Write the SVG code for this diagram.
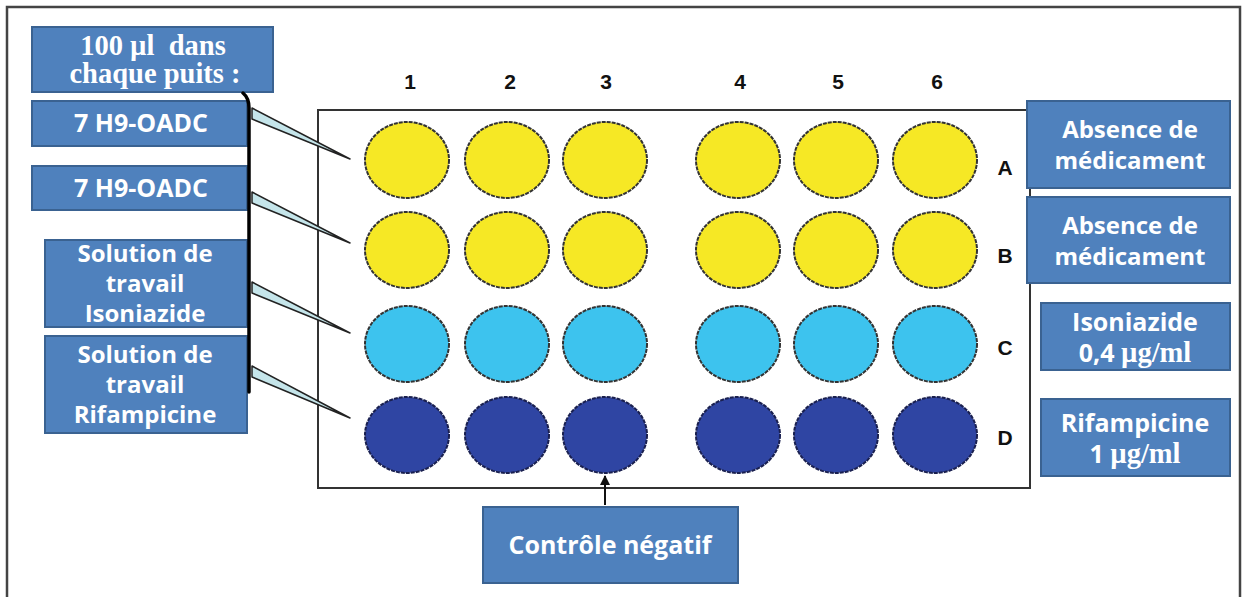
<svg xmlns="http://www.w3.org/2000/svg" width="1242" height="597" viewBox="0 0 1242 597">
<defs>
<style>
.box{fill:#4f81bd;stroke:#3a6291;stroke-width:2}
.t{font-family:"Open Sans","Liberation Sans",sans-serif;font-weight:bold;font-size:25px;fill:#fff;text-anchor:middle}
.t3{font-size:24px}
.s{font-family:"Liberation Serif","DejaVu Serif",serif;font-weight:bold;font-size:28.5px;white-space:pre}
.lab{font-family:"Liberation Sans",Arial,sans-serif;font-weight:bold;font-size:21px;fill:#111;text-anchor:middle}
.y{fill:#f6e825;stroke:#333;stroke-width:2;stroke-dasharray:4 1}
.c{fill:#3dc3ee;stroke:#333;stroke-width:2;stroke-dasharray:4 1}
.d{fill:#2f45a3;stroke:#1a2050;stroke-width:2;stroke-dasharray:4 1}
.pip{fill:#c5e5ea;stroke:#222;stroke-width:1.5;stroke-linejoin:round}
</style>
<marker id="arr" viewBox="0 0 10 10" refX="9" refY="5" markerWidth="5" markerHeight="5" orient="auto"><path d="M0,0 L10,5 L0,10 z" fill="#111"/></marker>
</defs>
<rect x="0" y="0" width="1242" height="597" fill="#fff"/>
<rect x="7" y="7" width="1233" height="600" fill="none" stroke="#444" stroke-width="2.5"/>

<g id="plate">
<rect x="318" y="110" width="712" height="378" fill="#fff" stroke="#333" stroke-width="2"/>
<g id="row-A">
<ellipse class="y" cx="407" cy="160" rx="42" ry="38"/>
<ellipse class="y" cx="507" cy="160" rx="42" ry="38"/>
<ellipse class="y" cx="605" cy="160" rx="42" ry="38"/>
<ellipse class="y" cx="738" cy="160" rx="42" ry="38"/>
<ellipse class="y" cx="836" cy="160" rx="42" ry="38"/>
<ellipse class="y" cx="935" cy="160" rx="42" ry="38"/>
</g>
<g id="row-B">
<ellipse class="y" cx="407" cy="250" rx="42" ry="38"/>
<ellipse class="y" cx="507" cy="250" rx="42" ry="38"/>
<ellipse class="y" cx="605" cy="250" rx="42" ry="38"/>
<ellipse class="y" cx="738" cy="250" rx="42" ry="38"/>
<ellipse class="y" cx="836" cy="250" rx="42" ry="38"/>
<ellipse class="y" cx="935" cy="250" rx="42" ry="38"/>
</g>
<g id="row-C">
<ellipse class="c" cx="407" cy="344" rx="42" ry="38"/>
<ellipse class="c" cx="507" cy="344" rx="42" ry="38"/>
<ellipse class="c" cx="605" cy="344" rx="42" ry="38"/>
<ellipse class="c" cx="738" cy="344" rx="42" ry="38"/>
<ellipse class="c" cx="836" cy="344" rx="42" ry="38"/>
<ellipse class="c" cx="935" cy="344" rx="42" ry="38"/>
</g>
<g id="row-D">
<ellipse class="d" cx="407" cy="435" rx="42" ry="38"/>
<ellipse class="d" cx="507" cy="435" rx="42" ry="38"/>
<ellipse class="d" cx="605" cy="435" rx="42" ry="38"/>
<ellipse class="d" cx="738" cy="435" rx="42" ry="38"/>
<ellipse class="d" cx="836" cy="435" rx="42" ry="38"/>
<ellipse class="d" cx="935" cy="435" rx="42" ry="38"/>
</g>
<g id="col-labels">
<text class="lab" x="410" y="89">1</text>
<text class="lab" x="510" y="89">2</text>
<text class="lab" x="606" y="89">3</text>
<text class="lab" x="740" y="89">4</text>
<text class="lab" x="838" y="89">5</text>
<text class="lab" x="937" y="89">6</text>
</g>
<g id="row-labels">
<text class="lab" x="1005" y="175">A</text>
<text class="lab" x="1005" y="263">B</text>
<text class="lab" x="1005" y="355">C</text>
<text class="lab" x="1005" y="445">D</text>
</g>
</g>

<g id="left-header">
<rect class="box" x="32" y="27" width="241" height="65"/>
<text class="t s" x="153" y="55">100 µl  dans</text>
<text class="t s" x="155" y="83">chaque puits :</text>
</g>
<g id="left-A">
<rect class="box" x="32" y="101" width="215" height="45"/>
<text class="t" x="141" y="132">7 H9-OADC</text>
</g>
<g id="left-B">
<rect class="box" x="32" y="166" width="215" height="44"/>
<text class="t" x="141" y="197">7 H9-OADC</text>
</g>
<g id="left-C">
<rect class="box" x="45" y="240" width="202" height="87"/>
<text class="t t3" x="145" y="262">Solution de</text>
<text class="t t3" x="145" y="292">travail</text>
<text class="t t3" x="145" y="322">Isoniazide</text>
</g>
<g id="left-D">
<rect class="box" x="45" y="336" width="202" height="97"/>
<text class="t t3" x="145" y="363">Solution de</text>
<text class="t t3" x="145" y="393">travail</text>
<text class="t t3" x="145" y="423">Rifampicine</text>
</g>

<g id="right-A">
<rect class="box" x="1027" y="101" width="203" height="87"/>
<text class="t t3" x="1130" y="138">Absence de</text>
<text class="t t3" x="1130" y="169">médicament</text>
</g>
<g id="right-B">
<rect class="box" x="1027" y="197" width="203" height="86"/>
<text class="t t3" x="1130" y="234">Absence de</text>
<text class="t t3" x="1130" y="265">médicament</text>
</g>
<g id="right-C">
<rect class="box" x="1041" y="303" width="189" height="67"/>
<text class="t" x="1135" y="331">Isoniazide</text>
<text class="t" x="1135" y="362">0,4 <tspan class="s">µg/ml</tspan></text>
</g>
<g id="right-D">
<rect class="box" x="1041" y="399" width="189" height="77"/>
<text class="t" x="1135" y="432">Rifampicine</text>
<text class="t" x="1135" y="463">1 <tspan class="s">µg/ml</tspan></text>
</g>

<g id="bottom">
<rect class="box" x="483" y="507" width="255" height="76"/>
<text class="t" x="610" y="554">Contrôle négatif</text>
</g>

<g id="connectors">
<path d="M243,93 Q249,98 249,108 L249,392" fill="none" stroke="#000" stroke-width="3.5" stroke-linecap="round"/>
<polygon class="pip" points="252,108 252,119 350,159"/>
<polygon class="pip" points="252,192 252,203 350,243"/>
<polygon class="pip" points="252,282 252,293 350,333"/>
<polygon class="pip" points="252,366 252,377 350,418"/>
<line x1="605" y1="505" x2="605" y2="476" stroke="#111" stroke-width="2" marker-end="url(#arr)"/>
</g>
</svg>
